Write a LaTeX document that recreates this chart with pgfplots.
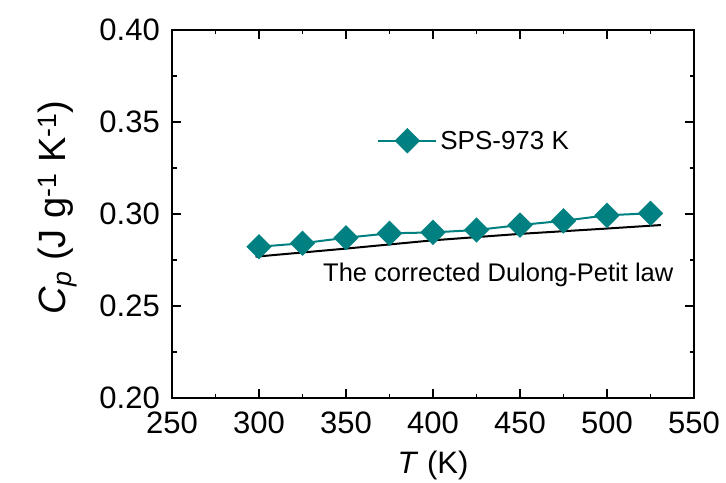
\documentclass[border=0pt]{standalone}
\usepackage{fontspec}
\setmainfont{Liberation Sans}
\usepackage{pgfplots}
\pgfplotsset{compat=1.18}
\definecolor{teal1}{RGB}{0,128,128}
\begin{document}
\begin{tikzpicture}
\begin{axis}[
  scale only axis, width=522pt, height=368pt,
  xmin=250, xmax=550, ymin=0.2, ymax=0.4,
  xtick={250,300,350,400,450,500,550},
  ytick={0.20,0.25,0.30,0.35,0.40},
  minor x tick num=1, minor y tick num=1,
  tick align=inside, major tick length=9pt, minor tick length=4.5pt,
  axis line style={line width=1.5pt},
  every tick/.style={line width=1.5pt, black},
  /pgf/number format/assume math mode=true,
  yticklabel style={/pgf/number format/.cd, fixed, fixed zerofill, precision=2},
  xticklabel style={/pgf/number format/.cd, fixed, precision=0, 1000 sep={}},
  ticklabel style={font=\fontsize{31}{36}\selectfont, inner sep=0pt},
  xticklabel shift=14pt, yticklabel shift=12pt,
  xlabel={\textit{T} (K)},
  x label style={at={(axis description cs:0.5,0)}, anchor=base, yshift=-75pt, font=\fontsize{31}{36}\selectfont},
  legend image code/.code={\draw[mark repeat=2,mark phase=2,#1] plot coordinates {(0pt,0pt) (29pt,0pt) (58pt,0pt)};},
  legend style={at={(rel axis cs:0.393,0.699)}, anchor=west, draw=none, fill=none, inner sep=0pt,
    font=\fontsize{26}{30}\selectfont, nodes={inner sep=3pt}},
  legend cell align=left,
]
\addplot[color=teal1, line width=2pt, mark=square*, mark size=8pt,
  mark options={rotate=45, fill=teal1, draw=teal1, solid}]
  coordinates {(300,0.2822) (325,0.2841) (350,0.2871) (375,0.2895) (400,0.2900)
               (425,0.2913) (450,0.2940) (475,0.2963) (500,0.2993) (525,0.3004)};
\addlegendentry{SPS-973 K}
\addplot[black, line width=2pt, forget plot]
  coordinates {(298,0.2768) (350,0.2812) (400,0.2857) (450,0.2892) (500,0.2921) (531,0.2940)};
\node[anchor=base west, inner sep=0pt, font=\fontsize{25.5}{30}\selectfont] at (axis cs:336.8,0.2632) {The corrected Dulong-Petit law};
\end{axis}
\node[rotate=90, anchor=south, inner sep=0pt, font=\fontsize{38}{44}\selectfont]
  at ([shift={(-95pt,6.5pt)}]current axis.west)
  {\textit{C}\textsubscript{\textit{p}} (J g\textsuperscript{-1} K\textsuperscript{-1})};
\pgfresetboundingbox
\path[use as bounding box] ([shift={(-172pt,-84pt)}]current axis.south west) rectangle ([shift={(32pt,30pt)}]current axis.north east);
\end{tikzpicture}
\end{document}
